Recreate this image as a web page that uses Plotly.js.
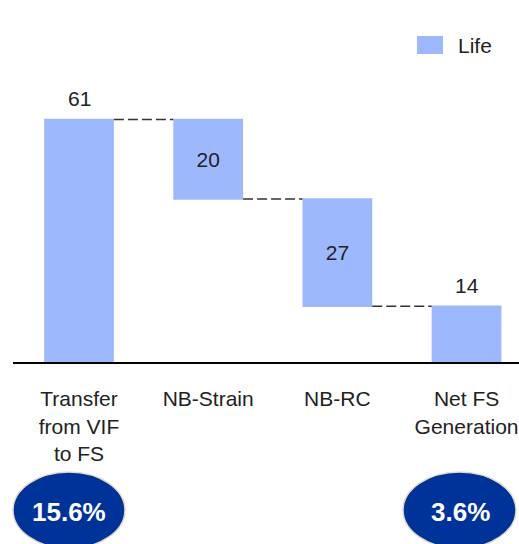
<!DOCTYPE html>
<html>
<head>
<meta charset="utf-8">
<script src="https://cdn.plot.ly/plotly-3.0.1.min.js"></script>
<style>html,body{margin:0;padding:0;background:#fff;}#chart{width:519px;height:544px;}</style>
</head>
<body>
<div id="chart"></div>
<script>
const categories = ["Transfer<br>from VIF<br>to FS", "NB-Strain", "NB-RC", "Net FS<br>Generation"];
const measures = ["absolute", "relative", "relative", "total"];
const values = [61, -20, -27, 14];
const valueLabels = ["61", "20", "27", "14"];
const labelInside = [false, true, true, false];
const seriesName = "Life";
const badgeLabels = ["15.6%", "3.6%"];

const barColor = "#9db8fd";
const font = "Liberation Sans, Arial, sans-serif";
const txtColor = "#222";

// cumulative levels for the outside labels
const levels = [];
let run = 0;
values.forEach((v, i) => {
  if (measures[i] === "absolute") run = v;
  else if (measures[i] === "relative") run += v;
  levels.push(run);
});

const trace = {
  type: "waterfall",
  name: seriesName,
  x: categories,
  y: values,
  measure: measures,
  text: valueLabels.map((t, i) => labelInside[i] ? t : ""),
  textinfo: "text",
  textposition: labelInside.map(b => b ? "inside" : "none"),
  insidetextanchor: "middle",
  textfont: {family: font, size: 21, color: txtColor},
  insidetextfont: {family: font, size: 21, color: txtColor},
  constraintext: "none",
  width: 0.54,
  increasing: {marker: {color: barColor}},
  decreasing: {marker: {color: barColor}},
  totals: {marker: {color: barColor}},
  connector: {mode: "between", line: {color: "#333", width: 1.5, dash: "10px,4px"}},
  hoverinfo: "skip",
  showlegend: false
};

const annotations = [];
valueLabels.forEach((t, i) => {
  if (!labelInside[i]) {
    annotations.push({xref: "x", yref: "y", x: categories[i], y: levels[i], text: t, showarrow: false,
      xanchor: "center", yanchor: "bottom", yshift: 7, font: {family: font, size: 21, color: txtColor}});
  }
});
annotations.push(
  {xref: "paper", yref: "paper", x: 0.8755, y: 0.924, text: seriesName, showarrow: false,
   xanchor: "left", yanchor: "middle", font: {family: font, size: 21, color: txtColor}},
  {xref: "paper", yref: "paper", x: 0.1107, y: -0.4386, text: "<b>" + badgeLabels[0] + "</b>", showarrow: false,
   xanchor: "center", yanchor: "middle", font: {family: font, size: 26, color: "#fff"}},
  {xref: "paper", yref: "paper", x: 0.8834, y: -0.4386, text: "<b>" + badgeLabels[1] + "</b>", showarrow: false,
   xanchor: "center", yanchor: "middle", font: {family: font, size: 26, color: "#fff"}}
);

const layout = {
  width: 519, height: 544,
  margin: {l: 13, r: 0, t: 20, b: 182},
  paper_bgcolor: "#fff", plot_bgcolor: "#fff",
  font: {family: font, size: 21, color: txtColor},
  showlegend: false,
  xaxis: {
    type: "category",
    range: [-0.511, 3.406],
    showgrid: false, zeroline: false,
    showline: true, linecolor: "#000", linewidth: 2,
    ticks: "", ticklabelstandoff: 17,
    tickfont: {family: font, size: 21, color: txtColor},
    fixedrange: true
  },
  yaxis: {
    range: [0, 86],
    visible: false,
    fixedrange: true
  },
  shapes: [
    {type: "rect", xref: "paper", yref: "paper", x0: 0.7984, x1: 0.8498, y0: 0.9006, y1: 0.9532,
     fillcolor: barColor, line: {width: 0}},
    {type: "circle", xref: "paper", yref: "paper", x0: 0.0, x1: 0.2213, y0: -0.3216, y1: -0.545,
     fillcolor: "#003399", line: {color: "#e2dcc6", width: 1.5}, layer: "above"},
    {type: "circle", xref: "paper", yref: "paper", x0: 0.7708, x1: 0.9941, y0: -0.3216, y1: -0.545,
     fillcolor: "#003399", line: {color: "#e2dcc6", width: 1.5}, layer: "above"}
  ],
  annotations: annotations
};

Plotly.newPlot("chart", [trace], layout, {displayModeBar: false, staticPlot: true});
</script>
</body>
</html>
